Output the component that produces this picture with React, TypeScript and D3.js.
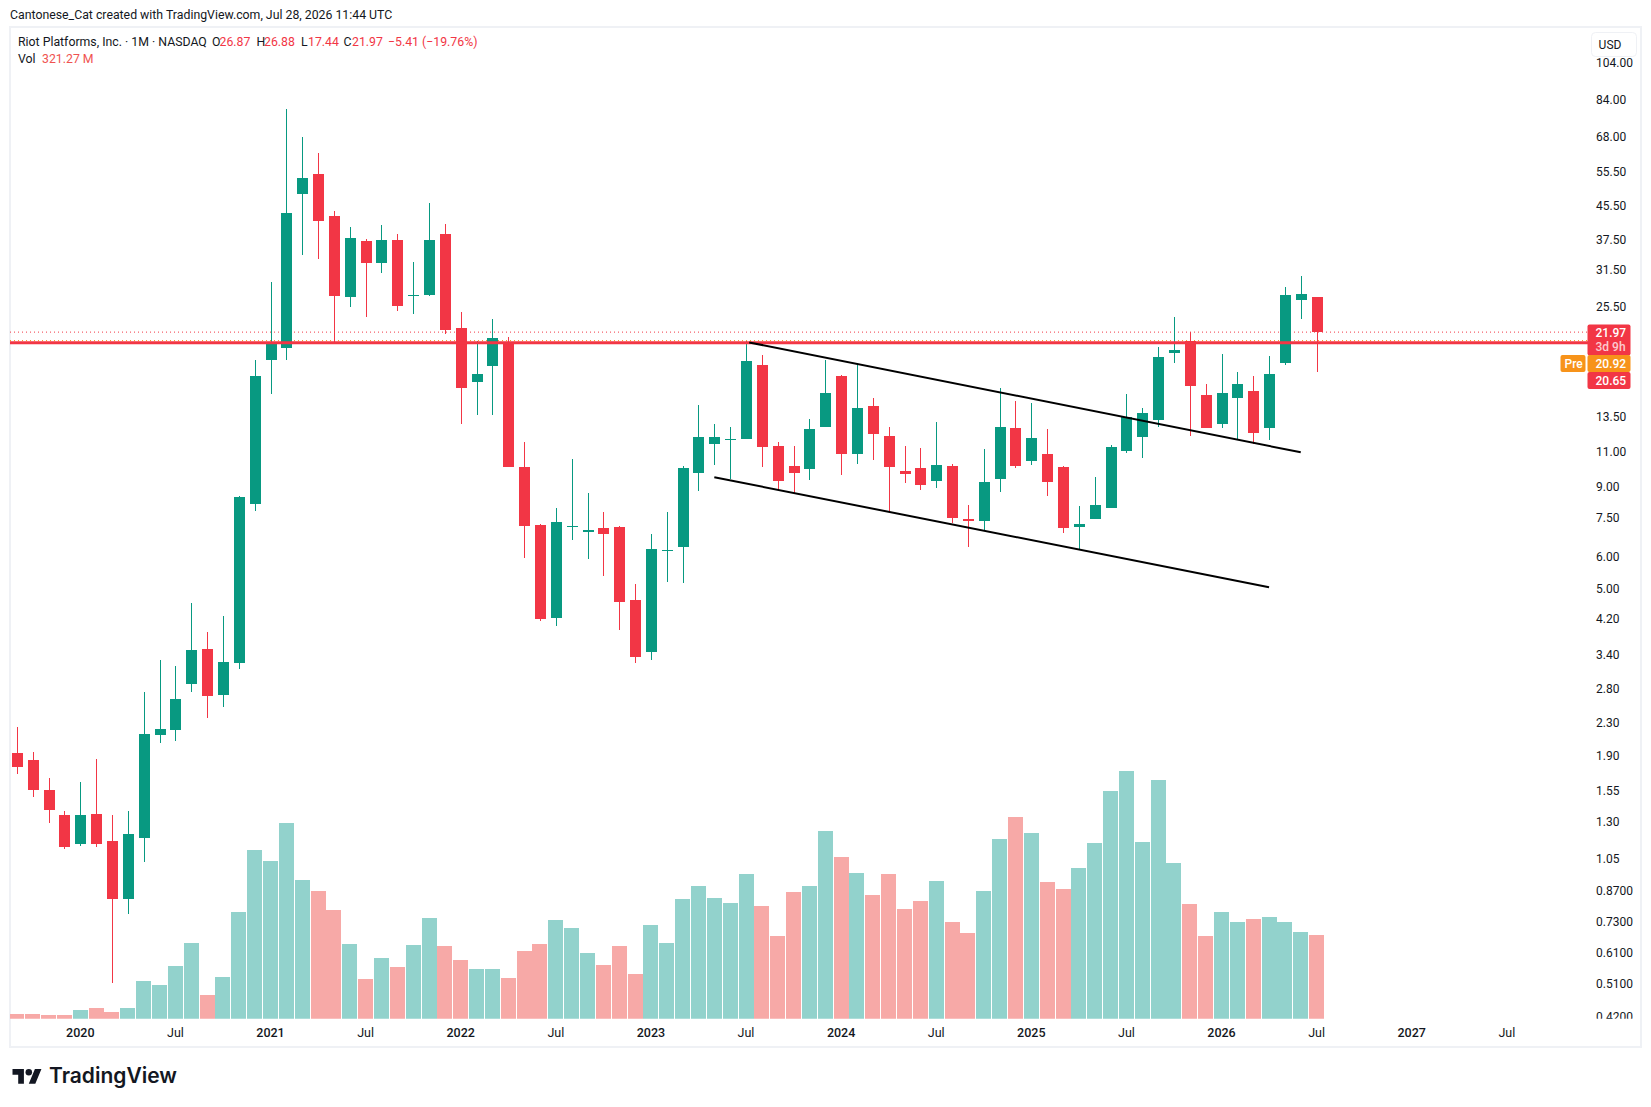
import { useEffect, useRef } from "react";
import * as d3 from "d3";

// monthly bars, Sep 2019 - Jul 2026
const opens = [
  1.93, 1.85, 1.56, 1.35, 1.14, 1.36, 1.16, 0.83, 1.18, 2.14, 2.2, 2.88, 3.52, 2.7, 3.25, 8.15, 18.71, 20.09, 48.88, 54.78,
  42.98, 26.97, 37.2, 32.82, 37.42, 27.08, 27.29, 38.74, 22.51, 16.5, 18.1, 20.67, 10.07, 7.21, 4.22, 7.12, 6.94, 7.09, 7.12, 4.68,
  3.47, 6.21, 6.36, 9.75, 11.54, 11.8, 11.82, 18.17, 11.39, 10.14, 9.98, 12.73, 17.06, 10.89, 14.35, 12.06, 9.83, 10.02, 9.31, 10.14,
  7.46, 7.39, 9.42, 12.65, 10.45, 10.87, 10.07, 7.14, 7.48, 7.97, 11.06, 11.99, 13.23, 19.52, 20.88, 15.28, 12.93, 15.05, 15.64, 12.65,
  18.38, 26.46, 26.87,
];
const highs = [
  2.25, 1.94, 1.67, 1.38, 1.63, 1.86, 1.35, 1.38, 2.75, 3.3, 3.19, 4.6, 3.89, 4.27, 8.53, 18.71, 29.36, 79.75, 67.84, 61.85,
  44.24, 40.33, 37.63, 40.8, 38.74, 32.95, 46.33, 41.04, 24.69, 20.88, 23.71, 21.37, 11.65, 7.25, 7.95, 10.56, 8.67, 7.77, 7.16, 5.13,
  6.84, 7.77, 10.14, 14.43, 12.93, 12.71, 20.88, 19.26, 11.65, 11.39, 13.31, 18.71, 17.15, 18.38, 15.02, 12.71, 11.39, 11.25, 13.08, 10.26,
  8.09, 11.19, 15.92, 14.76, 14.59, 12.56, 10.14, 8.05, 9.51, 11.46, 15.37, 14.18, 20.17, 23.98, 21.99, 16.29, 19.37, 17.45, 17.06, 19.15,
  28.52, 30.4, 26.88,
];
const lows = [
  1.71, 1.5, 1.29, 1.11, 1.13, 1.12, 0.51, 0.76, 1.03, 2.05, 2.07, 2.75, 2.36, 2.52, 3.14, 7.83, 15.4, 18.71, 34.31, 33.53,
  20.6, 25.45, 24.03, 30.98, 24.87, 24.45, 27.08, 21.78, 12.95, 13.64, 13.64, 10.07, 5.96, 4.13, 4.03, 6.62, 5.93, 5.38, 3.92, 3.25,
  3.31, 5.2, 5.17, 8.79, 10.21, 9.41, 11.82, 10.1, 8.83, 8.62, 9.35, 12.71, 9.64, 10.27, 10.51, 7.79, 9.21, 8.84, 8.95, 7.28,
  6.36, 7.0, 8.74, 10.04, 10.21, 8.53, 6.9, 6.24, 7.46, 7.95, 10.95, 10.62, 12.73, 18.38, 12.06, 12.6, 12.65, 11.85, 11.52, 11.79,
  18.17, 23.71, 17.44,
];
const closes = [
  1.78, 1.56, 1.39, 1.12, 1.35, 1.14, 0.83, 1.21, 2.15, 2.22, 2.64, 3.5, 2.69, 3.27, 8.48, 17.06, 20.52, 43.73, 53.53, 41.82,
  27.13, 37.85, 32.82, 37.42, 25.6, 27.24, 37.42, 22.29, 15.94, 17.25, 21.25, 10.1, 7.18, 4.18, 7.34, 7.16, 7.0, 6.84, 4.63, 3.37,
  6.28, 6.24, 10.02, 11.99, 11.99, 11.85, 18.6, 11.34, 9.31, 9.75, 12.56, 15.46, 10.89, 14.18, 12.22, 10.1, 9.7, 9.1, 10.2, 7.52,
  7.39, 9.24, 12.71, 10.16, 11.92, 9.26, 7.1, 7.25, 8.09, 11.32, 13.49, 13.78, 19.04, 19.82, 16.1, 12.65, 15.46, 16.29, 12.27, 17.25,
  27.24, 27.39, 21.97,
];
// volume in millions
const volumes = [
  17.9, 17.9, 14.1, 14.1, 33, 41, 25.6, 41, 145, 129, 202, 291, 91, 160, 410, 648, 605, 751, 532, 490,
  417, 287, 152, 233, 198, 283, 387, 279, 225, 191, 191, 156, 260, 287, 379, 348, 252, 206, 279, 172,
  360, 291, 460, 509, 463, 444, 556, 433, 317, 486, 509, 721, 621, 559, 475, 556, 421, 452, 529, 371,
  329, 490, 690, 774, 713, 525, 498, 579, 675, 874, 951, 678, 916, 598, 440, 317, 410, 371, 383, 390,
  371, 333, 321.27,
];

const priceTicks = [
  104, 84, 68, 55.5, 45.5, 37.5, 31.5, 25.5, 13.5, 11, 9, 7.5, 6, 5, 4.2, 3.4, 2.8, 2.3, 1.9, 1.55, 1.3, 1.05, 0.87, 0.73, 0.61, 0.51, 0.42,
];
const timeTicks = [
  { i: 4, label: "2020" }, { i: 10, label: "Jul" }, { i: 16, label: "2021" }, { i: 22, label: "Jul" },
  { i: 28, label: "2022" }, { i: 34, label: "Jul" }, { i: 40, label: "2023" }, { i: 46, label: "Jul" },
  { i: 52, label: "2024" }, { i: 58, label: "Jul" }, { i: 64, label: "2025" }, { i: 70, label: "Jul" },
  { i: 76, label: "2026" }, { i: 82, label: "Jul" }, { i: 88, label: "2027" }, { i: 94, label: "Jul" },
];

// drawn trend lines, [month index, price]
const upperTrend = [[46.2, 20.7], [81, 10.97]];
const lowerTrend = [[44, 9.5], [79, 5.03]];

const lastPrice = 21.97;
const prePrice = 20.92;
const levelPrice = 20.65;

const UP = "#089981";
const DOWN = "#F23645";
const UP_VOL = "#92D2CC";
const DOWN_VOL = "#F7A9A7";
const INK = "#131722";
const FONT = "Roboto, sans-serif";

const App = () => {
  const ref = useRef<SVGSVGElement>(null);

  useEffect(() => {
    if (!ref.current) return;
    const svg = d3.select(ref.current);
    svg.selectAll("*").remove();

    const pane = { left: 10, right: 1590, top: 27, bottom: 1018.7 };
    const x = d3.scaleLinear().domain([0, 82]).range([16.9, 1316.6]);
    const y = d3.scaleLog().domain([84, 0.42]).range([100, 1017]);
    const vol = d3.scaleLinear().domain([0, 1000]).range([pane.bottom, pane.bottom - 260.4]);

    svg.append("rect").attr("width", 1651).attr("height", 1107).attr("fill", "#fff");

    svg.append("text")
      .attr("x", 10).attr("y", 19)
      .attr("font-family", FONT).attr("font-size", 12.3).attr("fill", INK)
      .text("Cantonese_Cat created with TradingView.com, Jul 28, 2026 11:44 UTC");

    svg.append("rect")
      .attr("x", 10).attr("y", 27).attr("width", 1631).attr("height", 1020)
      .attr("fill", "none").attr("stroke", "#EFF1F5").attr("stroke-width", 2);

    const defs = svg.append("defs");
    defs.append("clipPath").attr("id", "pane")
      .append("rect").attr("x", pane.left).attr("y", pane.top)
      .attr("width", pane.right - pane.left).attr("height", pane.bottom - pane.top);
    defs.append("clipPath").attr("id", "axis")
      .append("rect").attr("x", pane.right).attr("y", pane.top)
      .attr("width", 50).attr("height", pane.bottom - pane.top);

    const chart = svg.append("g").attr("clip-path", "url(#pane)");
    const idx = d3.range(opens.length);

    // volume
    chart.append("g").attr("shape-rendering", "crispEdges")
      .selectAll("rect").data(idx).join("rect")
      .attr("x", (i) => Math.round(x(i) - 7.5))
      .attr("width", 15)
      .attr("y", (i) => vol(volumes[i]))
      .attr("height", (i) => pane.bottom - vol(volumes[i]))
      .attr("fill", (i) => (closes[i] >= opens[i] ? UP_VOL : DOWN_VOL));

    // price lines
    chart.append("line")
      .attr("x1", pane.left).attr("x2", pane.right)
      .attr("y1", y(lastPrice)).attr("y2", y(lastPrice))
      .attr("stroke", DOWN).attr("stroke-dasharray", "1 3");
    chart.append("line")
      .attr("x1", pane.left).attr("x2", pane.right)
      .attr("y1", y(prePrice)).attr("y2", y(prePrice))
      .attr("stroke", "#F7931A").attr("stroke-dasharray", "1 3");

    // candles
    const candles = chart.append("g").attr("shape-rendering", "crispEdges");
    const color = (i: number) => (closes[i] >= opens[i] ? UP : DOWN);
    candles.selectAll(".wick").data(idx).join("rect")
      .attr("class", "wick")
      .attr("x", (i) => Math.round(x(i)) - 0.5)
      .attr("width", 1)
      .attr("y", (i) => y(highs[i]))
      .attr("height", (i) => y(lows[i]) - y(highs[i]))
      .attr("fill", color);
    candles.selectAll(".body").data(idx).join("rect")
      .attr("class", "body")
      .attr("x", (i) => Math.round(x(i)) - 5.5)
      .attr("width", 11)
      .attr("y", (i) => y(Math.max(opens[i], closes[i])))
      .attr("height", (i) => Math.max(1, Math.abs(y(opens[i]) - y(closes[i]))))
      .attr("fill", color);

    // horizontal level + channel
    chart.append("line")
      .attr("x1", pane.left).attr("x2", pane.right)
      .attr("y1", y(levelPrice)).attr("y2", y(levelPrice))
      .attr("stroke", DOWN).attr("stroke-width", 3);
    const trend = d3.line<number[]>().x((d) => x(d[0])).y((d) => y(d[1]));
    [upperTrend, lowerTrend].forEach((t) => {
      chart.append("path").attr("d", trend(t)!).attr("fill", "none").attr("stroke", "#000").attr("stroke-width", 2);
    });

    // price axis
    svg.append("g").attr("clip-path", "url(#axis)")
      .selectAll("text").data(priceTicks).join("text")
      .attr("x", 1596)
      .attr("y", (d) => y(d))
      .attr("dy", "0.35em")
      .attr("font-family", FONT).attr("font-size", 12).attr("fill", INK)
      .text((d) => (d < 1 ? d.toFixed(4) : d.toFixed(2)));

    // time axis
    svg.append("g")
      .selectAll("text").data(timeTicks).join("text")
      .attr("x", (d) => x(d.i))
      .attr("y", 1032.7)
      .attr("dy", "0.35em")
      .attr("text-anchor", "middle")
      .attr("font-family", FONT).attr("font-size", 12.5).attr("fill", INK)
      .attr("font-weight", (d) => (d.label === "Jul" ? 400 : 500))
      .text((d) => d.label);

    // legend
    const legend = svg.append("g").attr("font-family", FONT).attr("font-size", 12.3);
    const legendBits: [number, number, string, string][] = [
      [18, 46, "Riot Platforms, Inc. · 1M · NASDAQ", INK],
      [212, 46, "O", INK], [219.5, 46, "26.87", DOWN],
      [256.5, 46, "H", INK], [264, 46, "26.88", DOWN],
      [301, 46, "L", INK], [308, 46, "17.44", DOWN],
      [343.5, 46, "C", INK], [352, 46, "21.97", DOWN],
      [388, 46, "−5.41 (−19.76%)", DOWN],
      [18, 63, "Vol", INK], [42, 63, "321.27 M", "#EF5350"],
    ];
    legendBits.forEach(([lx, ly, s, c]) => {
      legend.append("text").attr("x", lx).attr("y", ly).attr("fill", c).text(s);
    });

    // USD button
    svg.append("rect")
      .attr("x", 1591.5).attr("y", 32.5).attr("width", 45).attr("height", 24).attr("rx", 4)
      .attr("fill", "#fff").attr("stroke", "#EFF1F5");
    svg.append("text")
      .attr("x", 1610).attr("y", 44.5).attr("dy", "0.35em").attr("text-anchor", "middle")
      .attr("font-family", FONT).attr("font-size", 12).attr("fill", INK).text("USD");

    // price tags
    const tag = (tx: number, ty: number, w: number, h: number, fill: string) =>
      svg.append("rect").attr("x", tx).attr("y", ty).attr("width", w).attr("height", h).attr("rx", 2).attr("fill", fill);
    const tagText = (tx: number, ty: number, s: string, o = 1) =>
      svg.append("text").attr("x", tx).attr("y", ty).attr("dy", "0.35em")
        .attr("font-family", FONT).attr("font-size", 12).attr("font-weight", 500)
        .attr("fill", "#fff").attr("fill-opacity", o).text(s);
    tag(1587.5, 324.5, 43, 31, DOWN);
    tag(1587.5, 372, 43, 17, DOWN);
    tag(1560.5, 355, 25, 17, "#F7931A");
    tag(1587.5, 355, 43, 17, "#F7931A");
    tagText(1595.5, 332.7, lastPrice.toFixed(2));
    tagText(1595.5, 346.7, "3d 9h", 0.75);
    tagText(1564.5, 363.7, "Pre");
    tagText(1595.5, 363.7, prePrice.toFixed(2));
    tagText(1595.5, 380.7, levelPrice.toFixed(2));

    // logo
    const logo = svg.append("g").attr("fill", INK);
    const mark = logo.append("g").attr("transform", "translate(12.5,1065.7) scale(0.815)");
    mark.append("path").attr("d", "M14 22H7V11H0V4h14v18zM28 22h-8l7.5-18h8L28 22z");
    mark.append("circle").attr("cx", 20).attr("cy", 8).attr("r", 4);
    logo.append("text")
      .attr("x", 49).attr("y", 1083)
      .attr("font-family", "Inter, sans-serif").attr("font-size", 21).attr("font-weight", 600)
      .text("TradingView");
  }, []);

  return <svg ref={ref} width={1651} height={1107} style={{ position: "absolute", left: 0, top: 0 }} />;
};

export default App;
